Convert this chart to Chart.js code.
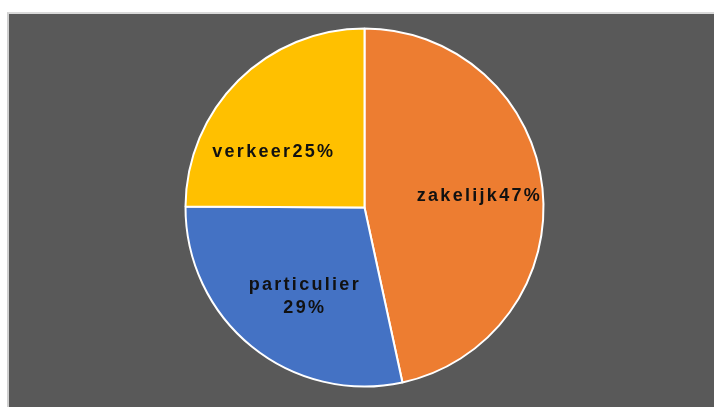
<!DOCTYPE html>
<html>
<head>
<meta charset="utf-8">
<script src="https://cdn.jsdelivr.net/npm/chart.js@4/dist/chart.umd.min.js"></script>
<style>
  html, body { margin: 0; padding: 0; background: #ffffff; }
  body { width: 714px; height: 407px; overflow: hidden; position: relative; }
  #frame {
    position: absolute; left: 7px; top: 12px;
    width: 705px; height: 393px;
    border-left: 2px solid #cfcfcf; border-top: 2px solid #d9d9d9;
    background: #595959;
  }
  #pie { display: block; }
</style>
</head>
<body>
<div id="frame"><canvas id="pie" width="705" height="393"></canvas></div>
<script>
// data
const categories = ['zakelijk', 'particulier', 'verkeer'];
const shares = [46.6, 28.5, 24.9];
const sliceColors = ['#ED7D31', '#4472C4', '#FFC000'];

// label text: "name" + "percent", particulier wraps onto two lines
const labelLines = [
    [categories[0] + Math.round(shares[0]) + '%'],
    [categories[1], Math.round(shares[1]) + '%'],
    [categories[2] + Math.round(shares[2]) + '%']
];

// draws the labels inside the slices, placed from each arc's geometry
const sliceLabels = {
    id: 'sliceLabels',
    afterDatasetsDraw(chart, args, opts) {
        const ctx = chart.ctx;
        const arcs = chart.getDatasetMeta(0).data;
        ctx.save();
        ctx.font = 'bold 18px "Liberation Sans", Arial, sans-serif';
        ctx.fillStyle = '#111111';
        ctx.textAlign = 'center';
        ctx.textBaseline = 'middle';
        if ('letterSpacing' in ctx) ctx.letterSpacing = '2.3px';
        arcs.forEach((arc, i) => {
            const p = arc.getProps(['x', 'y', 'startAngle', 'endAngle', 'outerRadius'], true);
            const mid = (p.startAngle + p.endAngle) / 2;
            const r = p.outerRadius * opts.radiusFactor[i];
            const x = p.x + Math.cos(mid) * r + opts.shift[i][0];
            const y = p.y + Math.sin(mid) * r + opts.shift[i][1];
            const lines = labelLines[i];
            const top = y - (lines.length - 1) * opts.lineHeight / 2;
            lines.forEach((t, k) => ctx.fillText(t, x + 1, top + k * opts.lineHeight));
        });
        ctx.restore();
    }
};

new Chart(document.getElementById('pie'), {
    type: 'pie',
    data: {
        labels: categories,
        datasets: [{
            data: shares,
            backgroundColor: sliceColors,
            borderColor: '#ffffff',
            borderWidth: 2
        }]
    },
    options: {
        responsive: false,
        animation: false,
        radius: 179,
        layout: { padding: { left: 6, right: 0, top: 0, bottom: 6 } },
        plugins: {
            legend: { display: false },
            tooltip: { enabled: false },
            sliceLabels: {
                radiusFactor: [0.64, 0.6, 0.6],
                shift: [[0, 1], [7, 6], [-16, 21]],
                lineHeight: 23
            }
        }
    },
    plugins: [sliceLabels]
});
</script>
</body>
</html>
